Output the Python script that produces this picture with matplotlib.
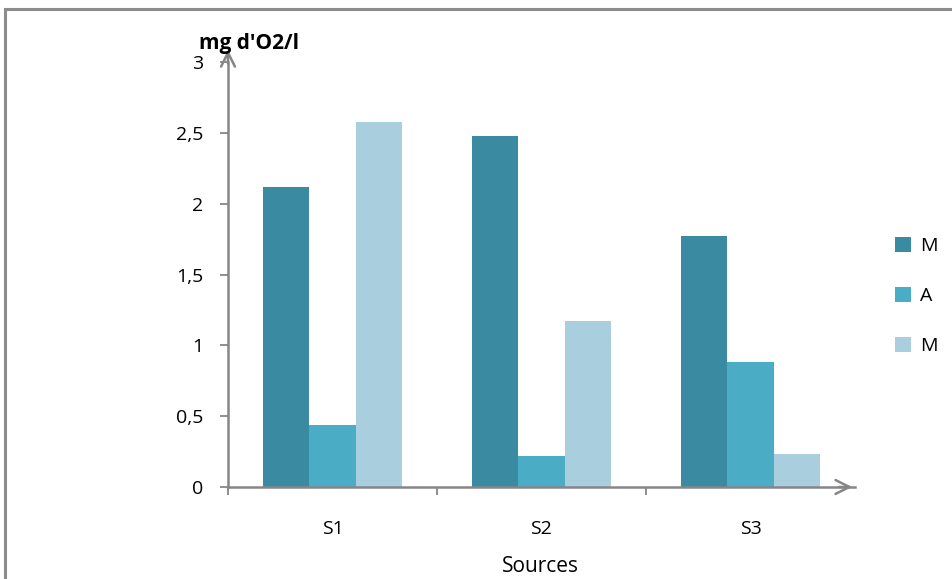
import matplotlib
matplotlib.use("Agg")
import matplotlib.pyplot as plt
from matplotlib.patches import Rectangle
import numpy as np

categories = ["S1", "S2", "S3"]
series_names = ["M", "A", "M"]
series_values = [
    [2.12, 2.48, 1.77],
    [0.44, 0.22, 0.88],
    [2.58, 1.17, 0.23],
]
colors = ["#3A8BA1", "#4BACC6", "#A9CFDE"]
y_ticks = [0, 0.5, 1, 1.5, 2, 2.5, 3]
y_tick_labels = ["0", "0,5", "1", "1,5", "2", "2,5", "3"]

plt.rcParams['font.family'] = ['Open Sans', 'DejaVu Sans']

W, H = 953, 579
fig = plt.figure(figsize=(W / 100, H / 100), dpi=100)

# outer frame (top & left visible)
fig.patches.append(Rectangle((5 / W, -0.1), 1.2, (H - 9) / H + 0.1, transform=fig.transFigure,
                             fill=False, edgecolor="#8C8C8C", linewidth=2.2))

ax = fig.add_axes([228 / W, 1 - 487 / H, (855 - 228) / W, (487 - 62) / H])

x = np.arange(len(categories))
bw = 0.223
for i, (vals, c) in enumerate(zip(series_values, colors)):
    ax.bar(x + (i - 1) * bw, vals, width=bw, color=c, label=series_names[i], zorder=2)

ax.set_xlim(-0.5, len(categories) - 0.5)
ax.set_ylim(0, 3)
ax.set_yticks(y_ticks)
ax.set_yticklabels(y_tick_labels)
ax.set_xticks(x)
ax.set_xticklabels(categories)
ax.set_xticks(np.arange(len(categories)) - 0.5, minor=True)

spine_c = "#868686"
for s in ["top", "right"]:
    ax.spines[s].set_visible(False)
for s in ["left", "bottom"]:
    ax.spines[s].set_color(spine_c)
    ax.spines[s].set_linewidth(1.8)

ax.tick_params(axis="y", colors=spine_c, length=6, width=1.3, labelsize=14, labelcolor="black", pad=12)
ax.tick_params(axis="x", which="major", length=0, labelsize=14, labelcolor="black", pad=24)
ax.tick_params(axis="x", which="minor", length=6, width=1.3, colors=spine_c)

# arrows
ax.annotate("", xy=(0, 1.035), xytext=(0, 0.99), xycoords="axes fraction",
            arrowprops=dict(arrowstyle="->", color=spine_c, lw=1.8, mutation_scale=25))
ax.annotate("", xy=(1.0, 0), xytext=(0.97, 0), xycoords="axes fraction",
            arrowprops=dict(arrowstyle="->", color=spine_c, lw=1.8, mutation_scale=25))

fig.text(199 / W, 1 - 43 / H, "mg d'O2/l", fontsize=15, fontweight="bold", va="center", ha="left")
fig.text(540 / W, 1 - 566 / H, "Sources", fontsize=15, va="center", ha="center")

leg = ax.legend(loc="center left", bbox_to_anchor=(878 / W, 1 - 296 / H), bbox_transform=fig.transFigure,
                frameon=False, fontsize=14, handlelength=0.8, handleheight=0.8, labelspacing=1.65,
                handletextpad=0.45)

fig.savefig("out.png", dpi=100)
